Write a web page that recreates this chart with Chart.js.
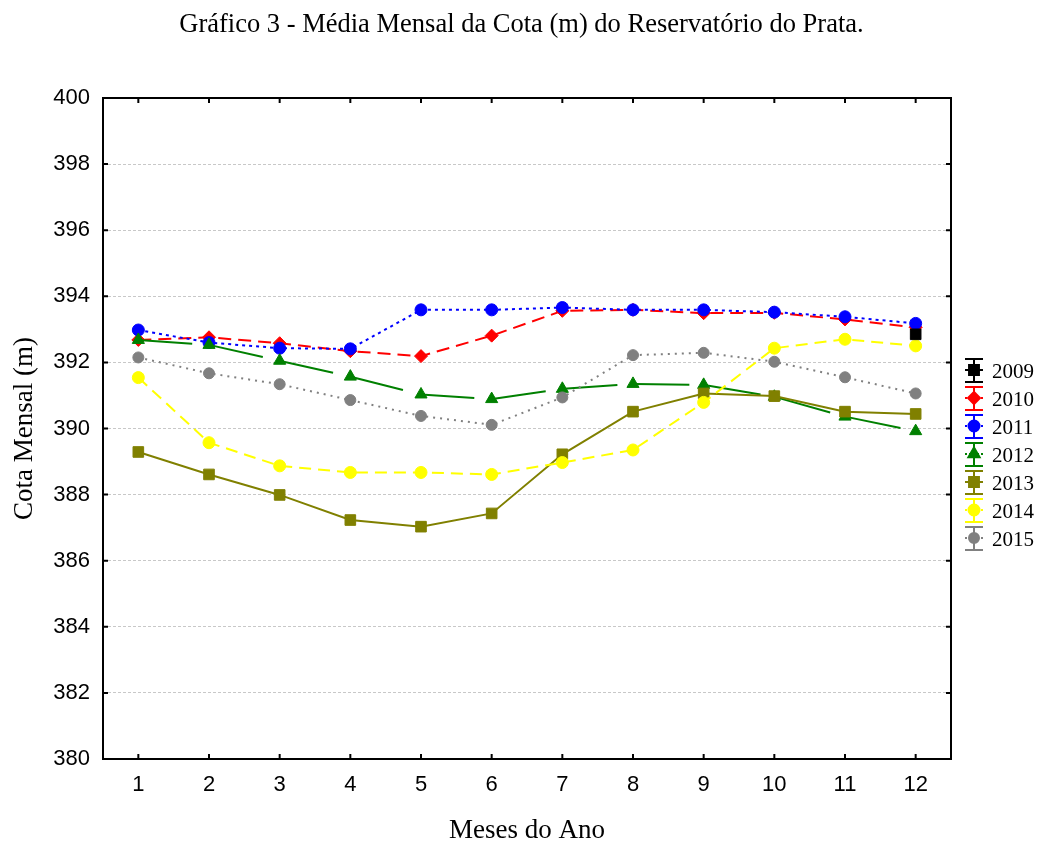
<!DOCTYPE html>
<html lang="pt">
<head>
<meta charset="utf-8">
<title>Cota Mensal - Reservatório do Prata</title>
<script src="https://cdn.jsdelivr.net/npm/chart.js@4.4.0/dist/chart.umd.min.js"></script>
<style>
    html, body { margin: 0; padding: 0; background: #fff; }
    #wrap { width: 1043px; height: 844px; }
</style>
</head>
<body>
<div id="wrap"><canvas id="cotaChart" width="1043" height="844"></canvas></div>
<script>
// Média mensal da cota (m) por ano
const meses = ['1', '2', '3', '4', '5', '6', '7', '8', '9', '10', '11', '12'];
const cota2009 = [null, null, null, null, null, null, null, null, null, null, null, 392.85];
const cota2010 = [392.68, 392.76, 392.58, 392.34, 392.19, 392.81, 393.56, 393.59, 393.49, 393.50, 393.30, 393.06];
const cota2011 = [392.98, 392.60, 392.43, 392.41, 393.59, 393.59, 393.66, 393.59, 393.59, 393.52, 393.38, 393.18];
const cota2012 = [392.68, 392.53, 392.05, 391.57, 391.03, 390.89, 391.20, 391.35, 391.32, 390.96, 390.36, 389.92];
const cota2013 = [389.29, 388.61, 387.99, 387.23, 387.03, 387.43, 389.22, 390.51, 391.06, 390.98, 390.51, 390.44];
const cota2014 = [391.54, 389.57, 388.87, 388.67, 388.67, 388.61, 388.97, 389.35, 390.79, 392.43, 392.70, 392.50];
const cota2015 = [392.15, 391.67, 391.34, 390.86, 390.38, 390.11, 390.94, 392.22, 392.29, 392.02, 391.55, 391.06];

const yMin = 380;
const yMax = 400;
const yStep = 2;

const serif = '"Liberation Serif", "Times New Roman", serif';
const sans = '"Liberation Sans", Arial, sans-serif';

function serie(label, data, color, dash, pointStyle, radius, order) {
    return {
        label: label,
        data: data,
        borderColor: color,
        backgroundColor: color,
        borderWidth: 2,
        borderDash: dash,
        pointStyle: pointStyle,
        pointRadius: radius,
        pointBorderWidth: 1,
        pointBackgroundColor: color,
        pointBorderColor: color,
        tension: 0,
        spanGaps: false,
        order: order
    };
}

const datasets = [
    serie('2009', cota2009, '#000000', [], 'rect', 7.5, 0),
    serie('2010', cota2010, '#ff0000', [13, 7], 'rectRot', 6.5, 7),
    serie('2011', cota2011, '#0000ff', [3, 4], 'circle', 6, 6),
    serie('2012', cota2012, '#008000', [54, 18], 'triangle', 7, 5),
    serie('2013', cota2013, '#808000', [], 'rect', 7.5, 4),
    serie('2014', cota2014, '#ffff00', [12, 7], 'circle', 6, 3),
    serie('2015', cota2015, '#808080', [2, 5], 'circle', 5.5, 2)
];

// moldura do gráfico com marcas para dentro
const framePlugin = {
    id: 'frame',
    afterDatasetsDraw(chart) {
        const {ctx, chartArea: a, scales: {x, y}} = chart;
        ctx.save();
        ctx.strokeStyle = '#000';
        ctx.lineWidth = 2;
        ctx.setLineDash([]);
        ctx.strokeRect(a.left, a.top, a.right - a.left, a.bottom - a.top);
        ctx.beginPath();
        x.ticks.forEach((t, i) => {
            const px = x.getPixelForTick(i);
            ctx.moveTo(px, a.bottom);
            ctx.lineTo(px, a.bottom - 5);
            ctx.moveTo(px, a.top);
            ctx.lineTo(px, a.top + 5);
        });
        y.ticks.forEach(t => {
            const py = y.getPixelForValue(t.value);
            ctx.moveTo(a.left, py);
            ctx.lineTo(a.left + 5, py);
            ctx.moveTo(a.right, py);
            ctx.lineTo(a.right - 5, py);
        });
        ctx.stroke();
        ctx.restore();
    }
};

// legenda à direita com símbolo de barra de erro
const legendPlugin = {
    id: 'legendaAnos',
    afterDraw(chart) {
        const ctx = chart.ctx;
        const cx = 974;
        let cy = 371;
        ctx.save();
        chart.data.datasets.forEach(ds => {
            ctx.strokeStyle = ds.borderColor;
            ctx.lineWidth = 2;
            ctx.setLineDash([]);
            ctx.beginPath();
            ctx.moveTo(cx - 9, cy - 12);
            ctx.lineTo(cx + 9, cy - 12);
            ctx.moveTo(cx - 9, cy + 11);
            ctx.lineTo(cx + 9, cy + 11);
            ctx.moveTo(cx, cy - 12);
            ctx.lineTo(cx, cy + 11);
            ctx.stroke();
            ctx.setLineDash(ds.borderDash.length ? [2, 2] : []);
            ctx.beginPath();
            ctx.moveTo(cx - 9, cy - 1);
            ctx.lineTo(cx + 9, cy - 1);
            ctx.stroke();
            ctx.setLineDash([]);
            Chart.helpers.drawPoint(ctx, {
                pointStyle: ds.pointStyle,
                radius: ds.pointRadius - 0.5,
                borderWidth: 1,
                rotation: 0
            }, cx, cy - 1);
            ctx.fillStyle = ds.backgroundColor;
            ctx.fill();
            ctx.fillStyle = '#000';
            ctx.font = '21px ' + serif;
            ctx.textAlign = 'left';
            ctx.textBaseline = 'middle';
            ctx.fillText(ds.label, 992, cy + 1);
            cy += 28;
        });
        ctx.restore();
    }
};

new Chart(document.getElementById('cotaChart').getContext('2d'), {
    type: 'line',
    data: {
        labels: meses,
        datasets: datasets
    },
    options: {
        responsive: false,
        animation: false,
        layout: {
            padding: 0
        },
        plugins: {
            legend: { display: false },
            tooltip: { enabled: false },
            title: {
                display: true,
                text: 'Gráfico 3 - Média Mensal da Cota (m) do Reservatório do Prata.',
                color: '#000',
                font: { family: serif, size: 26.5, weight: 'normal', lineHeight: 1 },
                padding: { top: 12, bottom: 59.5 }
            }
        },
        scales: {
            x: {
                type: 'category',
                offset: true,
                grid: { display: false, drawTicks: false },
                border: { display: false },
                ticks: {
                    color: '#000',
                    font: { family: sans, size: 22 },
                    padding: 13
                },
                title: {
                    display: true,
                    text: 'Meses do Ano',
                    color: '#000',
                    font: { family: serif, size: 27, lineHeight: 1 },
                    padding: { top: 0, bottom: 0 }
                },
                afterFit(scale) { scale.height = 85; }
            },
            y: {
                min: yMin,
                max: yMax,
                grid: {
                    drawTicks: false,
                    color: '#c8c8c8',
                    lineWidth: 1
                },
                border: { display: false, dash: [3, 2] },
                ticks: {
                    stepSize: yStep,
                    color: '#000',
                    font: { family: sans, size: 22 },
                    padding: 13
                },
                title: {
                    display: true,
                    text: 'Cota Mensal (m)',
                    color: '#000',
                    font: { family: serif, size: 27, lineHeight: 1 },
                    padding: { top: 11, bottom: 0 }
                },
                afterFit(scale) { scale.width = 103; }
            },
            // faixa à direita reservada para a legenda
            yLegenda: {
                position: 'right',
                display: true,
                grid: { display: false, drawTicks: false },
                border: { display: false },
                ticks: { display: false },
                afterFit(scale) { scale.width = 92; }
            }
        }
    },
    plugins: [framePlugin, legendPlugin]
});
</script>
</body>
</html>
